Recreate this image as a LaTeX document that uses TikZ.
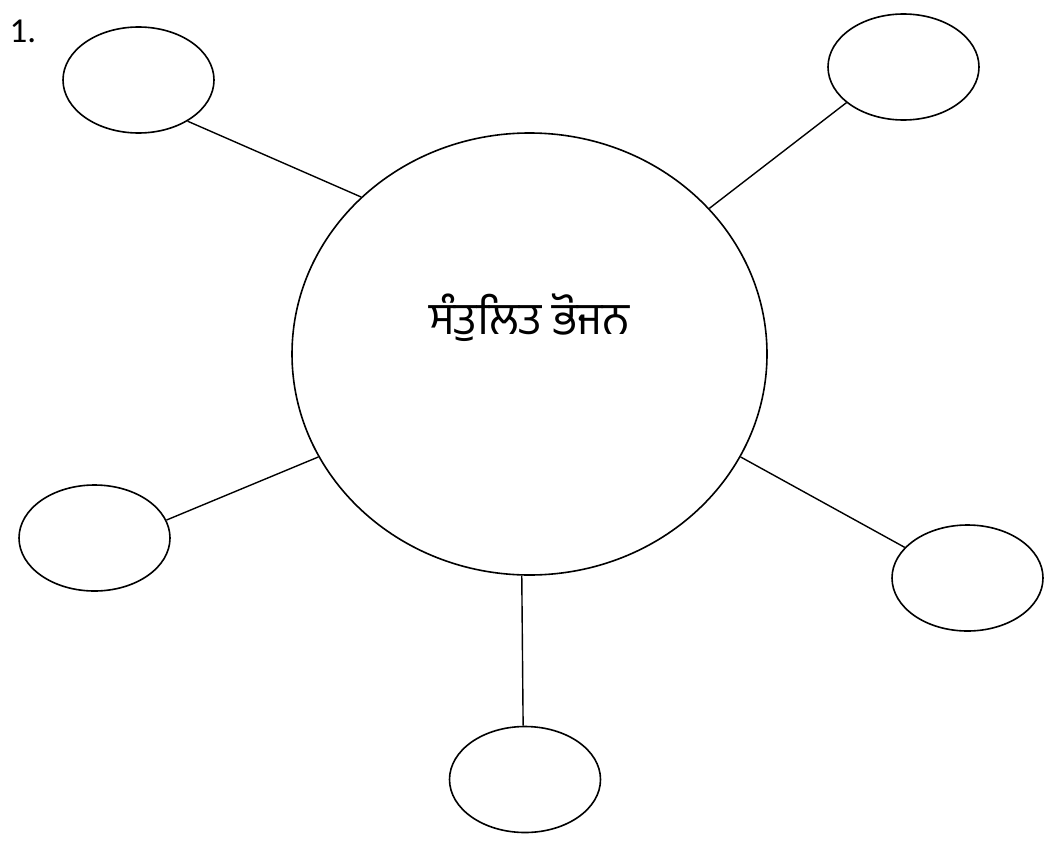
\documentclass[tikz,border=0pt]{standalone}
\usepackage{fontspec}
\usepackage{tikz}
\usetikzlibrary{shapes}
\setmainfont{Carlito}
\newfontfamily\gurfont[Script=Gurmukhi]{Hind Jalandhar}

\begin{document}
\begin{tikzpicture}[x=1pt,y=-1pt,
	hub node/.style={ellipse,draw,line width=1.6pt,minimum width=475pt,minimum height=442pt,inner sep=0pt},
	leaf node/.style={ellipse,draw,line width=1.6pt,minimum width=151pt,minimum height=106pt,inner sep=0pt},
	spoke/.style={line width=1.4pt}
]
	\useasboundingbox (0,0) rectangle (1048,843);

	\node[anchor=base west,font=\fontsize{35}{40}\selectfont] (num) at (6,43) {1.};

	\node[hub node] (H) at (529.5,354) {};
	\node[font=\gurfont\fontsize{45}{54}\selectfont] (title) at (529.5,318) {ਸੰਤੁਲਿਤ ਭੋਜਨ};

	\node[leaf node] (tl) at (138.5,80) {};
	\node[leaf node] (tr) at (903.5,67) {};
	\node[leaf node] (l) at (94.5,538) {};
	\node[leaf node] (r) at (967.5,578) {};
	\node[leaf node] (b) at (525,779.5) {};

	\draw[spoke] (tl.-40) -- (H.137);
	\draw[spoke] (tr.212.5) -- (H.39.8);
	\draw[spoke] (l.14.7) -- (H.206.7);
	\draw[spoke] (r.154.7) -- (H.-26.5);
	\draw[spoke] (b.92.2) -- (H.268.3);

\end{tikzpicture}
\end{document}
